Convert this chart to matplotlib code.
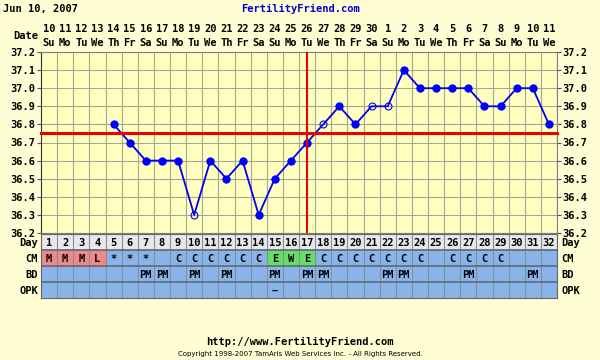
#!/usr/bin/python
# -*- coding:utf-8 -*-

import matplotlib
matplotlib.use("Agg")
import matplotlib.pyplot as plt
from matplotlib.patches import Rectangle

# dados do grafico
dias = list(range(1, 33))
datas = [10, 11, 12, 13, 14, 15, 16, 17, 18, 19, 20, 21, 22, 23, 24, 25,
         26, 27, 28, 29, 30, 1, 2, 3, 4, 5, 6, 7, 8, 9, 10, 11]
semana = ["Su", "Mo", "Tu", "We", "Th", "Fr", "Sa", "Su", "Mo", "Tu", "We",
          "Th", "Fr", "Sa", "Su", "Mo", "Tu", "We", "Th", "Fr", "Sa", "Su",
          "Mo", "Tu", "We", "Th", "Fr", "Sa", "Su", "Mo", "Tu", "We"]
temps = [None, None, None, None, 36.8, 36.7, 36.6, 36.6, 36.6, 36.3, 36.6,
         36.5, 36.6, 36.3, 36.5, 36.6, 36.7, 36.8, 36.9, 36.8, 36.9, 36.9,
         37.1, 37.0, 37.0, 37.0, 37.0, 36.9, 36.9, 37.0, 37.0, 36.8]
abertos = [10, 18, 21, 22]
coverline = 36.75
ovulacao = 17
cm = ["M", "M", "M", "L", "*", "*", "*", "", "C", "C", "C", "C", "C", "C",
      "E", "W", "E", "C", "C", "C", "C", "C", "C", "C", "", "C", "C", "C",
      "C", "", "", ""]
bd_dias = [7, 8, 10, 12, 15, 17, 18, 22, 23, 27, 31]
opk = {15: "\u2212"}
yticks = [36.2, 36.3, 36.4, 36.5, 36.6, 36.7, 36.8, 36.9, 37.0, 37.1, 37.2]

fundo = "#FFFDD4"
fundo_graf = "#FFFFC0"
fonte = dict(family="DejaVu Sans Mono", weight="bold", size=7.5)

W, H = 600.0, 360.0
fig = plt.figure(figsize=(6, 3.6), dpi=100, facecolor=fundo)

def caixa(x0, y0, x1, y1):
    return [x0 / W, 1 - y1 / H, (x1 - x0) / W, (y1 - y0) / H]

# grafico de temperatura
ax = fig.add_axes(caixa(41, 52, 557, 233))
ax.set_facecolor(fundo_graf)
ax.set_xlim(0.5, 32.5)
ax.set_ylim(36.2, 37.2)
for x in range(33):
    ax.axvline(x + 0.5, color="#a5a595", lw=0.8, zorder=1)
for y in yticks:
    ax.axhline(y, color="#a5a595", lw=0.8, zorder=1)

xs = [d for d, t in zip(dias, temps) if t is not None]
ys = [t for t in temps if t is not None]
ax.plot(xs, ys, color="#0000EE", lw=1.3, zorder=3)
fx = [d for d in xs if d not in abertos]
fy = [temps[d - 1] for d in fx]
ax.plot(fx, fy, "o", color="#0000FF", ms=5, zorder=4)
ox = abertos
oy = [temps[d - 1] for d in ox]
ax.plot(ox, oy, "o", mfc="none", mec="#0000FF", mew=0.8, ms=5, zorder=4)

ax.axhline(coverline, color="#EE0000", lw=2.2, zorder=5, clip_on=False)
ax.axvline(ovulacao, color="#EE0000", lw=1.5, zorder=5)

ax.set_xticks([])
ax.set_yticks(yticks)
ax.set_yticklabels(["%.1f" % v for v in yticks], **fonte)
ax.tick_params(axis="y", length=3, width=0.8, color="#555555", pad=1,
               labelright=True, right=True)
for s in ax.spines.values():
    s.set_color("#808080")
    s.set_linewidth(0.8)
ax.spines["left"].set_color("#333333")

# datas no topo
for d, n, s in zip(dias, datas, semana):
    ax.text(d, 37.2 + 0.125, str(n), ha="center", va="center", **fonte)
    ax.text(d, 37.2 + 0.05, s, ha="center", va="center", **fonte)
ax.text(0.3, 37.2 + 0.09, "Date", ha="right", va="center", **fonte)

# tabela inferior
tax = fig.add_axes(caixa(41, 234, 557, 298))
tax.set_xlim(0.5, 32.5)
tax.set_ylim(4, 0)
tax.set_xticks([])
tax.set_yticks([])
for s in tax.spines.values():
    s.set_color("#666666")
    s.set_linewidth(0.8)

tax.add_patch(Rectangle((0.5, 0), 32, 1, color="#E8E8E8", zorder=0))
tax.add_patch(Rectangle((0.5, 1), 32, 3, color="#88B4EA", zorder=0))
for d, c in zip(dias, cm):
    if c in ("M", "L"):
        tax.add_patch(Rectangle((d - 0.5, 1), 1, 1, color="#F08888", zorder=1))
    elif c in ("E", "W"):
        tax.add_patch(Rectangle((d - 0.5, 1), 1, 1, color="#66DD66", zorder=1))
for x in range(33):
    tax.axvline(x + 0.5, color="#8090a0", lw=0.8, zorder=2)
for y in range(1, 4):
    tax.axhline(y, color="#606870", lw=1.2, zorder=2)

for d in dias:
    tax.text(d, 0.55, str(d), ha="center", va="center", **fonte)
for d, c in zip(dias, cm):
    if c:
        tax.text(d, 1.55, c, ha="center", va="center", **fonte)
for d in bd_dias:
    tax.text(d, 2.55, "PM", ha="center", va="center", **fonte)
for d, c in opk.items():
    tax.text(d, 3.55, c, ha="center", va="center", **fonte)

rotulos = ["Day", "CM", "BD", "OPK"]
for i, r in enumerate(rotulos):
    tax.text(0.3, i + 0.55, r, ha="right", va="center", **fonte)
    tax.text(32.75, i + 0.55, r, ha="left", va="center", **fonte)

# cabecalho e rodape
fig.text(3 / W, 1 - 9 / H, "Jun 10, 2007", ha="left", va="center", **fonte)
fig.text(300 / W, 1 - 9 / H, "FertilityFriend.com", ha="center", va="center",
         color="#0000CC", **fonte)
fig.text(300 / W, 1 - 342 / H, "http://www.FertilityFriend.com", ha="center",
         va="center", **fonte)
fig.text(300 / W, 1 - 354 / H,
         "Copyright 1998-2007 TamAris Web Services Inc. - All Rights Reserved.",
         ha="center", va="center", family="DejaVu Sans", size=5)

plt.savefig("out.png", dpi=100, facecolor=fundo)
